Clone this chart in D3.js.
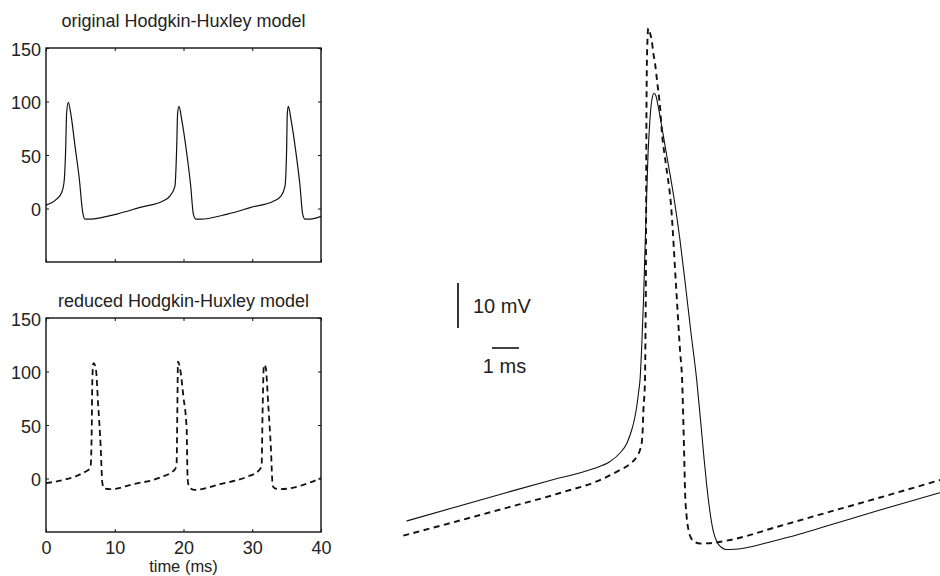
<!DOCTYPE html>
<html>
<head>
<meta charset="utf-8">
<script src="https://cdn.jsdelivr.net/npm/d3@7"></script>
<style>
  html, body { margin: 0; padding: 0; background: #fff; }
  svg { display: block; font-family: "Liberation Sans", Arial, Helvetica, sans-serif; }
</style>
</head>
<body>
<svg id="chart" width="940" height="576"></svg>
<script>
// ---------------- DATA ----------------
// Left top: original Hodgkin-Huxley model (time in ms, membrane potential in mV)
const tOrig = [0, 1.53, 2.28, 2.62, 2.86, 3.0, 3.25, 3.59, 4.22, 4.85, 5.34, 5.67, 6.4, 10.3, 13.67, 17.07,
  18.04, 18.76, 19.0, 19.15, 19.35, 19.74, 20.46, 21.05, 21.43, 21.82, 22.5, 26.4, 29.8, 33.2,
  34.2, 34.76, 35.0, 35.1, 35.25, 35.64, 36.36, 36.95, 37.33, 37.67, 38.4, 40];
const vOrig = [3.2, 8.7, 15, 24.3, 55.2, 89.3, 99.2, 89.3, 58.3, 27.3, -3.6, -9.9, -9.9, -5.2, 1, 7.2,
  11.8, 21, 55.2, 89.3, 95.4, 83, 52.1, 21, -5.2, -9.9, -9.9, -5.2, 1, 7.2,
  11.8, 21, 55, 89, 95.4, 83, 52, 21, -5.2, -9.9, -9.9, -7.4];

// Left bottom: reduced Hodgkin-Huxley model
const tRed = [0, 6.16, 6.5, 6.65, 6.74, 6.89, 7.22, 7.6, 7.95, 8.19, 8.44, 9.31, 12.7, 16.58,
  18.76, 19.0, 19.1, 19.2, 19.49, 19.98, 20.46, 20.6, 20.85, 21.67, 25.3, 29.2,
  30.9, 31.36, 31.5, 31.7, 31.95, 32.34, 32.7, 32.98, 33.3, 34.04, 40];
const vRed = [-4.4, 8, 11.7, 45.8, 92.3, 107.8, 104, 67.5, 30.3, -3.7, -9.3, -10, -5.3, 0.9,
  8.6, 14.9, 61.3, 109.3, 103, 76.8, 45.8, -0.7, -8.4, -10.6, -5.3, 1.5,
  7.1, 11.7, 61.3, 106.2, 104, 67.5, 30.3, -6.9, -9.3, -10, 0.3];

// Right: single spike overlay, original (solid) vs reduced (dashed)
const tSpikeOrig = [0.241, 3.926, 5.556, 7.148, 7.778, 8.148, 8.407, 8.581, 8.685, 8.767, 8.833, 8.889,
  8.963, 9.019, 9.074, 9.130, 9.185, 9.233, 9.278, 9.333, 9.407, 9.481, 9.556, 9.667,
  9.889, 10.148, 10.370, 10.593, 10.778, 10.989, 11.148, 11.259, 11.359, 11.481, 11.593,
  11.741, 11.889, 12.074, 12.407, 12.778, 13.704, 14.815, 15.926, 17.778, 20.0];
const vSpikeOrig = [4.22, 10.51, 13.24, 15.82, 17.44, 19.33, 21.56, 24.44, 26.89, 29.62, 32.67, 35.56,
  44.44, 53.33, 64.44, 75.56, 85.56, 91.11, 95.11, 98.0, 99.27, 98.67, 96.56, 92.89,
  85.11, 76.0, 66.67, 55.56, 46.0, 35.56, 25.56, 18.22, 12.22, 6.22, 2.22,
  -0.44, -1.56, -2.11, -2.07, -1.78, -0.44, 1.33, 3.33, 6.67, 10.51];

const tSpikeRed = [0.122, 3.741, 5.926, 7.470, 8.148, 8.519, 8.767, 8.889, 8.952, 8.989, 9.011, 9.074,
  9.093, 9.111, 9.122, 9.137, 9.159, 9.196, 9.259, 9.322, 9.381, 9.444, 9.530, 9.630, 9.693,
  9.852, 10.037, 10.222, 10.370, 10.456, 10.493, 10.530, 10.556, 10.611, 10.685, 10.778,
  10.926, 11.111, 11.481, 12.148, 14.074, 15.926, 17.778, 20.0];
const vSpikeRed = [0.96, 6.82, 10.44, 13.49, 15.56, 16.89, 18.51, 20.0, 21.56, 24.44, 28.22, 35.56,
  46.67, 64.44, 86.67, 102.22, 110.0, 113.71, 112.67, 111.11, 108.22, 106.0, 101.56, 96.29, 91.11,
  83.33, 74.44, 56.67, 42.22, 34.44, 26.67, 17.78, 11.11, 5.56, 2.22, 0.44,
  -0.44, -0.78, -0.71, -0.09, 3.11, 6.29, 9.44, 13.33];

// Tick values and labels
const xTicks = [0, 10, 20, 30, 40];
const yTicks = [0, 50, 100, 150];
const titles = ["original Hodgkin-Huxley model", "reduced Hodgkin-Huxley model"];
const xLabel = "time (ms)";

// Scale bar (in data units of the right panel)
const barV = { t: 2.148, v0: 47.1, dv: 10, label: "10 mV" };
const barT = { t0: 3.407, dt: 1, v: 42.67, label: "1 ms" };

// ---------------- DRAW ----------------
const svg = d3.select("#chart");
const FONT = 18;

function panel(cfg) {
  const x = d3.scaleLinear().domain([0, 40]).range([cfg.x0, cfg.x1]);
  const y = d3.scaleLinear().domain([-50, 150]).range([cfg.y1, cfg.y0]);
  const g = svg.append("g");

  // title
  g.append("text")
    .attr("x", (cfg.x0 + cfg.x1) / 2).attr("y", cfg.titleY)
    .attr("text-anchor", "middle").attr("font-size", FONT).attr("fill", "#222")
    .text(cfg.title);

  // trace
  const line = d3.line().x((d, i) => x(cfg.t[i])).y(d => y(d)).curve(d3.curveMonotoneX);
  g.append("path").datum(cfg.v)
    .attr("d", line).attr("fill", "none").attr("stroke", "#111")
    .attr("stroke-width", cfg.dashed ? 1.8 : 1.2)
    .attr("stroke-dasharray", cfg.dashed ? "6,4" : null);

  // axes (inward ticks, mirrored)
  const left = g.append("g").attr("transform", `translate(${cfg.x0},0)`)
    .call(d3.axisLeft(y).tickValues(yTicks).tickSize(-3).tickPadding(5));
  const right = g.append("g").attr("transform", `translate(${cfg.x1},0)`)
    .call(d3.axisRight(y).tickValues(yTicks).tickSize(-3).tickFormat(""));
  const top = g.append("g").attr("transform", `translate(0,${cfg.y0})`)
    .call(d3.axisTop(x).tickValues(xTicks).tickSize(-3).tickFormat(""));
  const bottom = g.append("g").attr("transform", `translate(0,${cfg.y1})`)
    .call(d3.axisBottom(x).tickValues(xTicks).tickSize(-3).tickPadding(9)
      .tickFormat(cfg.xLabels ? d3.format("d") : ""));
  [left, right, top, bottom].forEach(a => {
    a.select(".domain").remove();
    a.selectAll("line").attr("stroke", "#111").attr("stroke-width", 1);
    a.selectAll("text").attr("font-size", FONT).attr("fill", "#222")
      .attr("font-family", "'Liberation Sans', Arial, sans-serif");
  });
  left.selectAll("text").attr("dy", "0.4em");

  g.append("rect")
    .attr("x", cfg.x0).attr("y", cfg.y0)
    .attr("width", cfg.x1 - cfg.x0).attr("height", cfg.y1 - cfg.y0)
    .attr("fill", "none").attr("stroke", "#111").attr("stroke-width", 1.4);

  if (cfg.xLabels) {
    g.append("text")
      .attr("x", (cfg.x0 + cfg.x1) / 2).attr("y", 572.2)
      .attr("text-anchor", "middle").attr("font-size", 16.5).attr("fill", "#222")
      .text(xLabel);
  }
}

panel({ x0: 46, x1: 321, y0: 48, y1: 262, titleY: 27, title: titles[0], t: tOrig, v: vOrig, dashed: false, xLabels: false });
panel({ x0: 46, x1: 321, y0: 318, y1: 532, titleY: 306.5, title: titles[1], t: tRed, v: vRed, dashed: true, xLabels: true });

// Right panel: spike overlay with scale bars, no axes
const xr = d3.scaleLinear().domain([0, 20]).range([400, 940]);
const yr = d3.scaleLinear().domain([-8, 120]).range([576, 0]);
const gr = svg.append("g");

const lineR = (ts) => d3.line().x((d, i) => xr(ts[i])).y(d => yr(d)).curve(d3.curveMonotoneX);
gr.append("path").datum(vSpikeOrig).attr("d", lineR(tSpikeOrig))
  .attr("fill", "none").attr("stroke", "#111").attr("stroke-width", 1.1);
gr.append("path").datum(vSpikeRed).attr("d", lineR(tSpikeRed))
  .attr("fill", "none").attr("stroke", "#111").attr("stroke-width", 1.9)
  .attr("stroke-dasharray", "6,4.5");

// scale bars
gr.append("line")
  .attr("x1", xr(barV.t)).attr("x2", xr(barV.t))
  .attr("y1", yr(barV.v0)).attr("y2", yr(barV.v0 + barV.dv))
  .attr("stroke", "#111").attr("stroke-width", 1.7);
gr.append("text")
  .attr("x", xr(barV.t) + 15).attr("y", yr(barV.v0 + barV.dv / 2) + 7)
  .attr("font-size", 20).attr("fill", "#222").text(barV.label);
gr.append("line")
  .attr("x1", xr(barT.t0)).attr("x2", xr(barT.t0 + barT.dt))
  .attr("y1", yr(barT.v)).attr("y2", yr(barT.v))
  .attr("stroke", "#111").attr("stroke-width", 1.6);
gr.append("text")
  .attr("x", xr(barT.t0 + barT.dt / 2) - 1).attr("y", yr(barT.v) + 25)
  .attr("text-anchor", "middle")
  .attr("font-size", 20).attr("fill", "#222").text(barT.label);
</script>
</body>
</html>
